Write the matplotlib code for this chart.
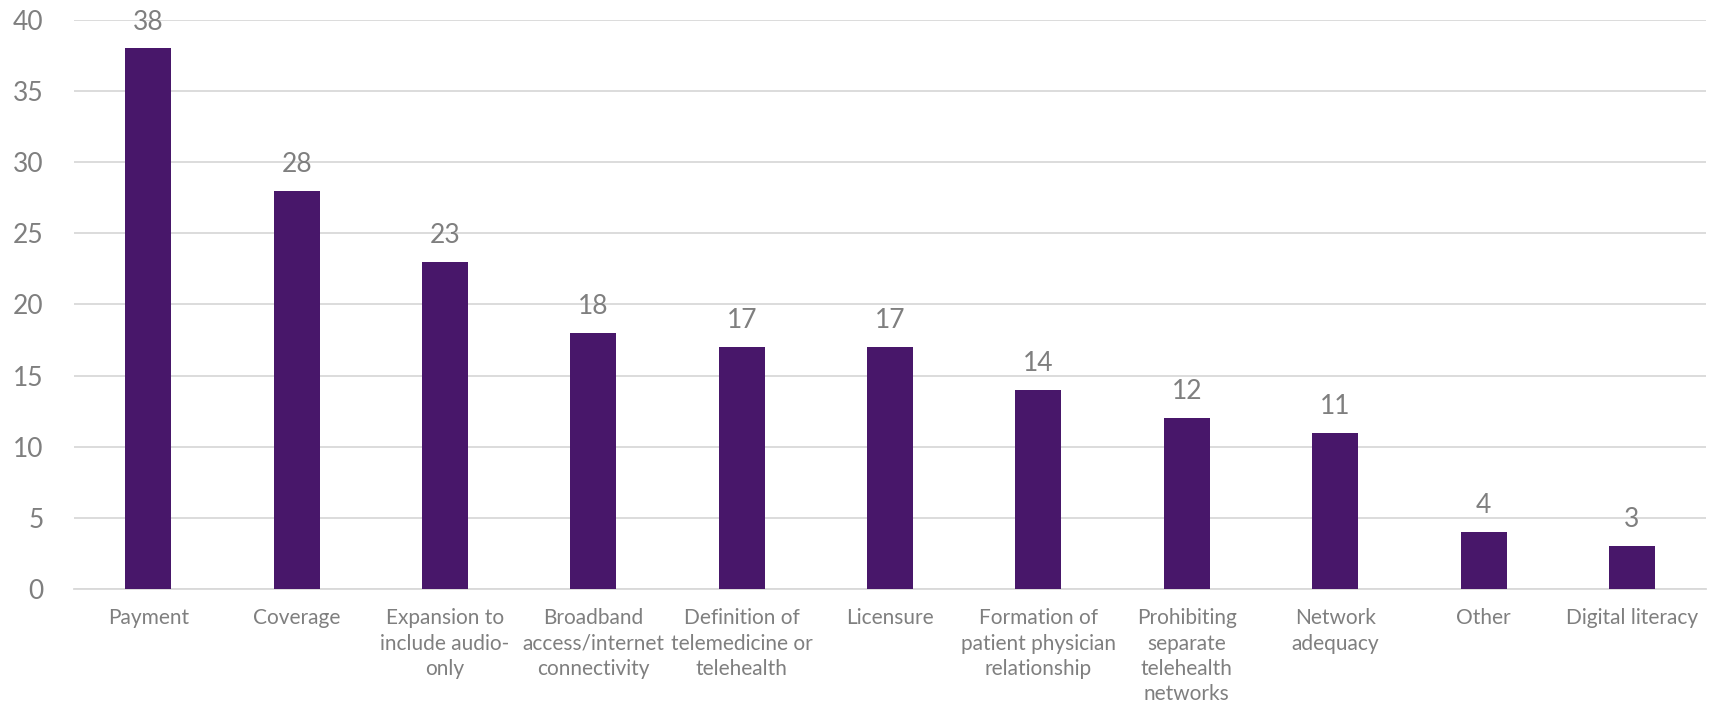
import matplotlib
matplotlib.use("Agg")
import matplotlib.pyplot as plt

# === Данные
categories = [
    "Payment",
    "Coverage",
    "Expansion to\ninclude audio-\nonly",
    "Broadband\naccess/internet\nconnectivity",
    "Definition of\ntelemedicine or\ntelehealth",
    "Licensure",
    "Formation of\npatient physician\nrelationship",
    "Prohibiting\nseparate\ntelehealth\nnetworks",
    "Network\nadequacy",
    "Other",
    "Digital literacy",
]
counts = [38, 28, 23, 18, 17, 17, 14, 12, 11, 4, 3]
y_ticks = [0, 5, 10, 15, 20, 25, 30, 35, 40]

bar_color = "#48176a"
text_color = "#7f7f7f"
grid_color = "#d9d9d9"

plt.rcParams["font.family"] = ["Lato", "DejaVu Sans"]

fig = plt.figure(figsize=(17.1, 7.06), dpi=100)
ax = fig.add_axes([0.0433, 0.1657, 0.9544, 0.806])

x = list(range(len(categories)))
bars = ax.bar(x, counts, width=0.31, color=bar_color, zorder=3)
ax.bar_label(bars, labels=[str(c) for c in counts], padding=10,
             fontsize=19, color=text_color)

ax.set_xlim(-0.5, len(categories) - 0.5)
ax.set_ylim(0, 40)
ax.set_yticks(y_ticks)
ax.set_xticks(x)
ax.set_xticklabels(categories, fontsize=15, color=text_color, linespacing=1.32, va="top")
ax.tick_params(axis="y", labelsize=19, labelcolor=text_color, length=0, pad=22)
ax.tick_params(axis="x", length=0, pad=14)

ax.yaxis.grid(True, color=grid_color, linewidth=1.3, zorder=0)
ax.set_axisbelow(True)
for side in ["top", "right", "left"]:
    ax.spines[side].set_visible(False)
ax.spines["bottom"].set_color(grid_color)
ax.spines["bottom"].set_linewidth(1.3)

fig.savefig("out.png", dpi=100)
